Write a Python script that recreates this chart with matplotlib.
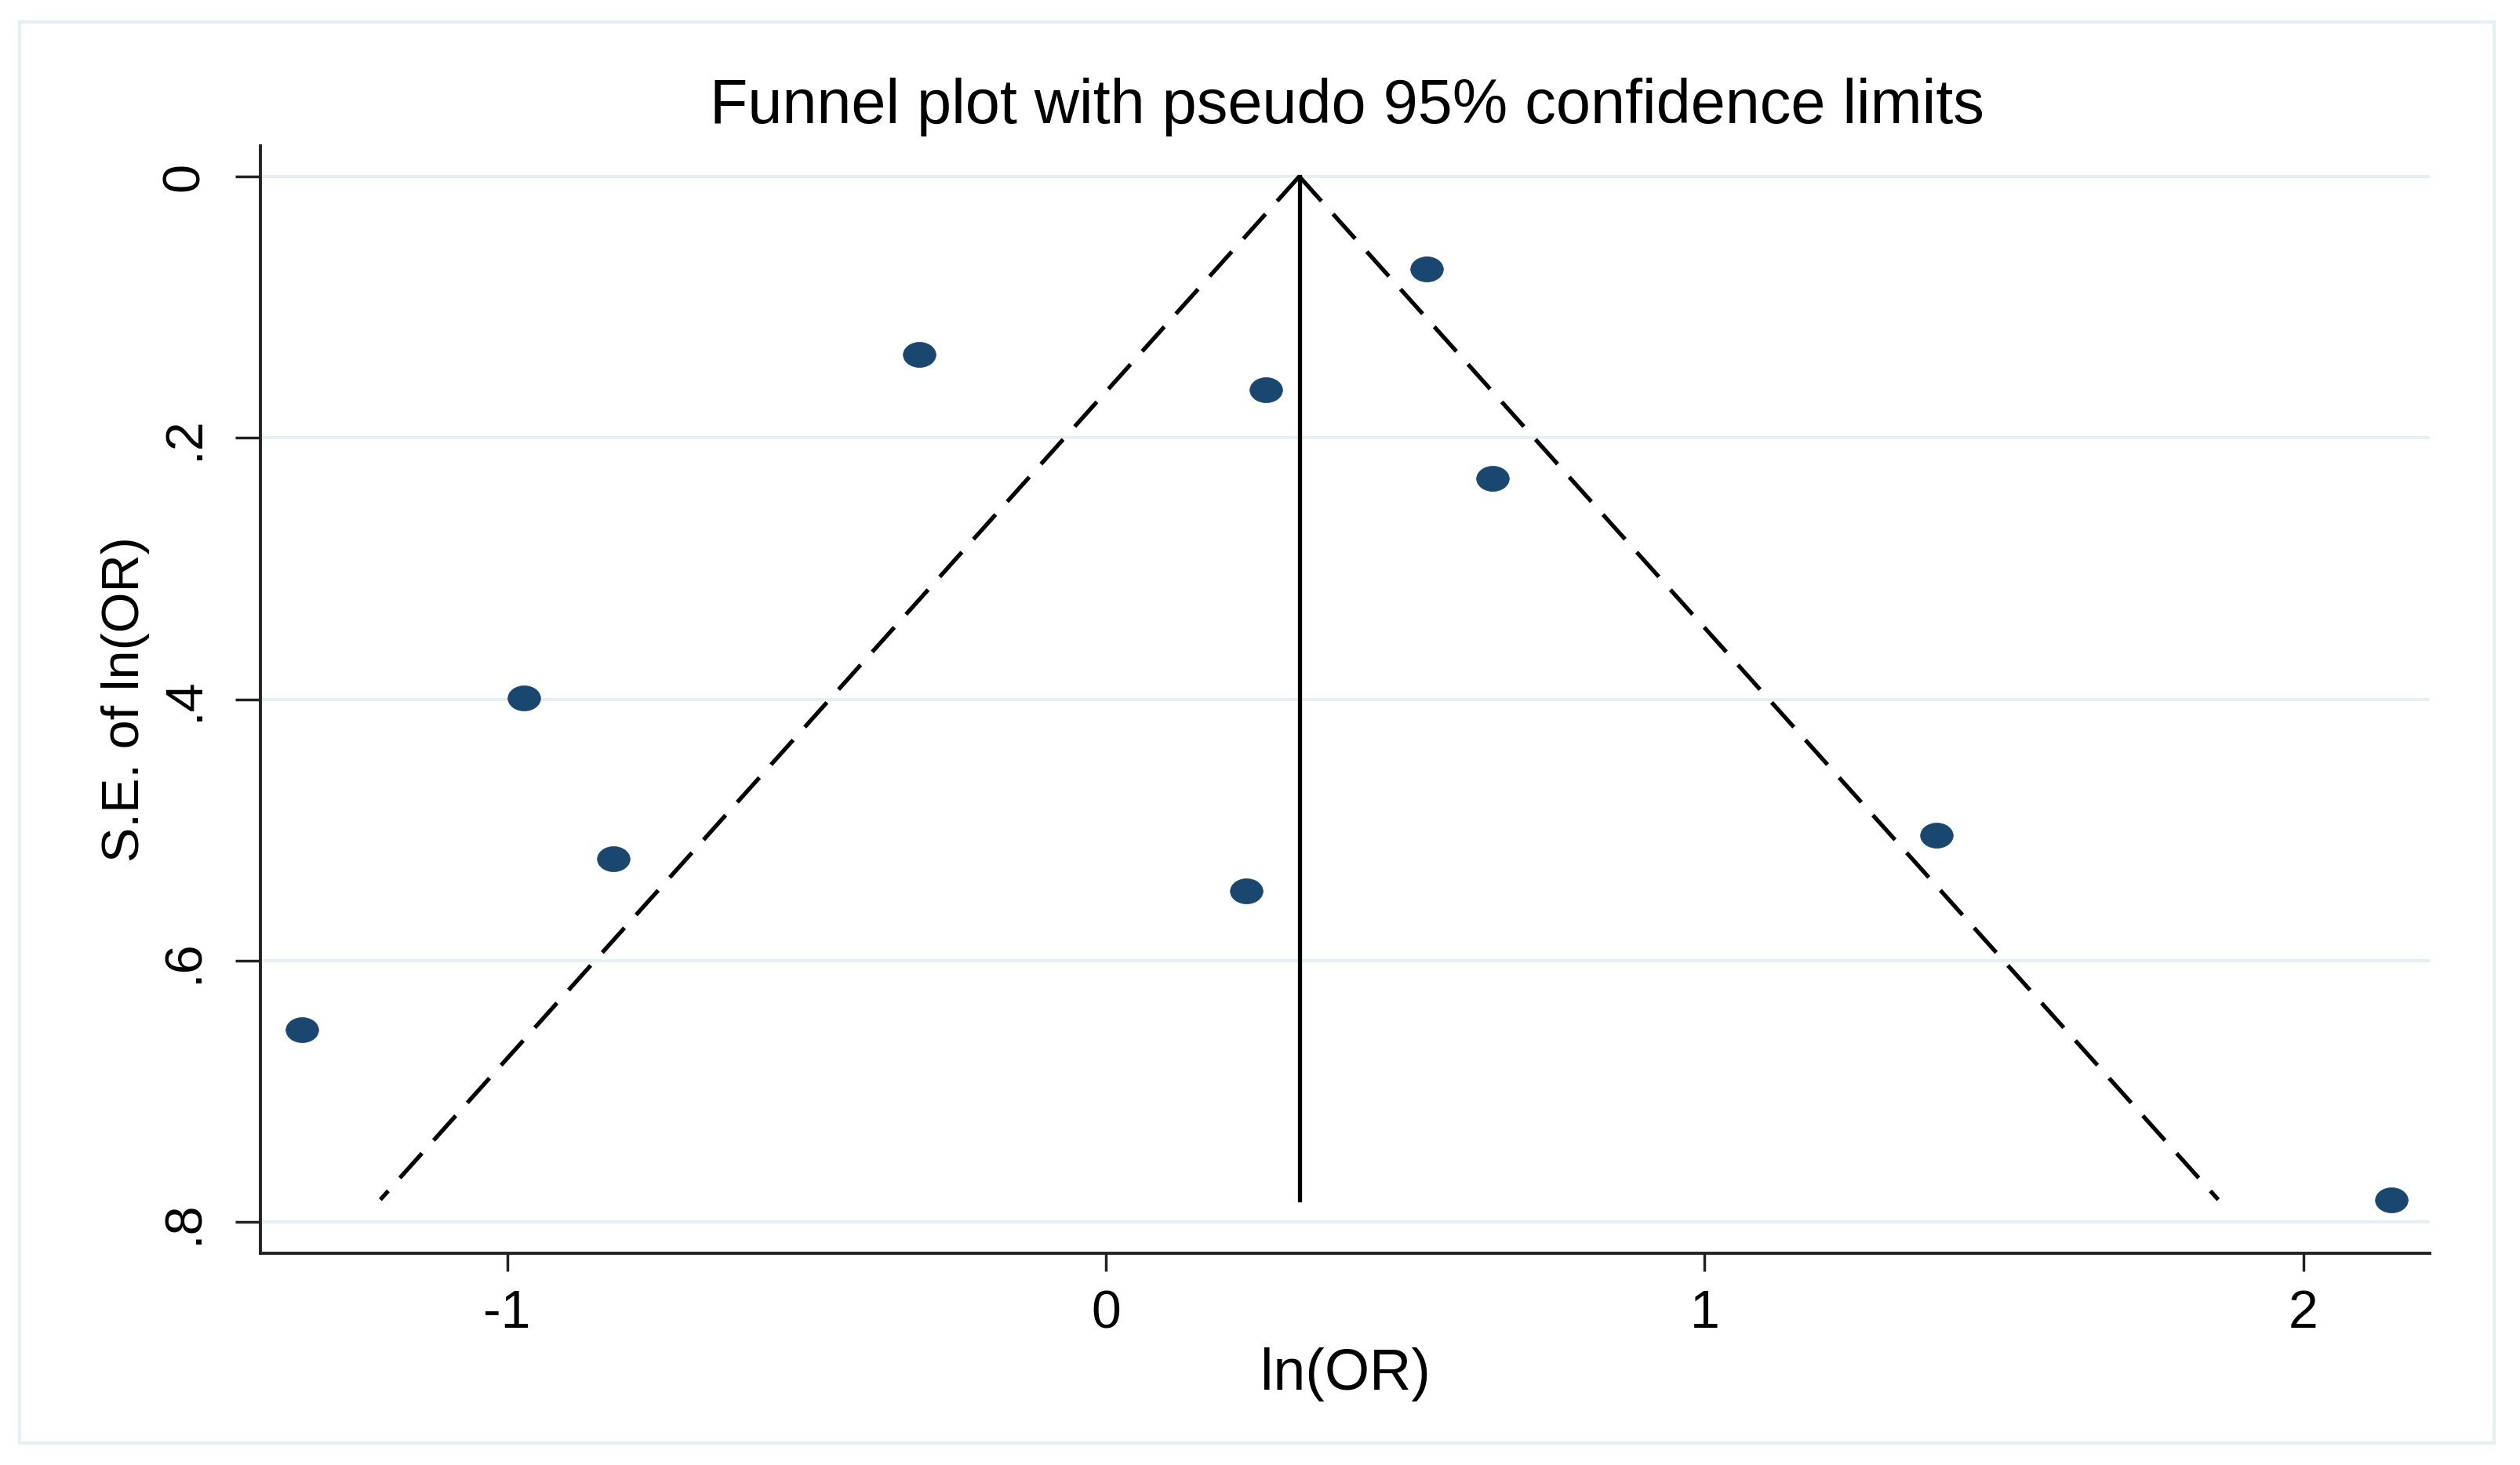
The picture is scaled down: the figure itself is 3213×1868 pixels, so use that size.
import numpy as np
import matplotlib
matplotlib.use("Agg")
import matplotlib.pyplot as plt
from matplotlib.path import Path
from matplotlib.patches import Rectangle

# ---- data ----
ln_or = [0.536, -0.312, 0.267, 0.646, -0.972, -0.823, 0.234, 1.387, -1.342, 2.147]
se_ln_or = [0.071, 0.136, 0.163, 0.231, 0.399, 0.522, 0.547, 0.504, 0.653, 0.783]
pooled = 0.323
z95 = 1.96
x_ticks = [-1, 0, 1, 2]
x_ticklabels = ["-1", "0", "1", "2"]
y_ticks = [0, 0.2, 0.4, 0.6, 0.8]
y_ticklabels = ["0", ".2", ".4", ".6", ".8"]
title = "Funnel plot with pseudo 95% confidence limits"
xlabel = "ln(OR)"
ylabel = "S.E. of ln(OR)"

plt.rcParams['font.family'] = ['Liberation Sans', 'DejaVu Sans']

W, H = 3213, 1868
fig = plt.figure(figsize=(W / 100, H / 100), dpi=100)
fig.patch.set_facecolor('white')

# outer light frame
fig.patches.append(Rectangle((25 / W, 1 - 1840 / H), (3180 - 25) / W, (1840 - 28) / H,
                             transform=fig.transFigure, fill=False,
                             edgecolor='#e6eff2', linewidth=3.0, zorder=0))

left, right, top, bottom = 332 / W, 3098 / W, 1 - 186 / H, 1 - 1598 / H
ax = fig.add_axes([left, bottom, right - left, top - bottom])

ax.set_xlim(-1.412, 2.211)
ax.set_ylim(0.824, -0.0234)

# grid
for yv in y_ticks:
    ax.axhline(yv, color='#e6eff2', linewidth=2.8, zorder=0)

# funnel
se_max = max(se_ln_or)
se_line = [0.0, se_max]
ax.plot([pooled - z95 * s for s in se_line], se_line, color='black', linewidth=3.8,
        linestyle=(0, (8, 4.2)), zorder=2)
ax.plot([pooled + z95 * s for s in se_line], se_line, color='black', linewidth=3.8,
        linestyle=(0, (8, 4.2)), zorder=2)
ax.plot([pooled, pooled], se_line, color='black', linewidth=3.8, zorder=2)

# elliptical marker
circ = Path.unit_circle()
ell = Path(circ.vertices * np.array([1.3, 1.0]), circ.codes)
ax.plot(ln_or, se_ln_or, linestyle='none', marker=ell, markersize=30,
        markerfacecolor='#1a476f', markeredgecolor='#1a476f', markeredgewidth=0.5, zorder=3)

# spines
for s in ['top', 'right']:
    ax.spines[s].set_visible(False)
for s in ['left', 'bottom']:
    ax.spines[s].set_linewidth(2.8)
    ax.spines[s].set_color('#222222')

ax.set_xticks(x_ticks)
ax.set_xticklabels(x_ticklabels)
ax.set_yticks(y_ticks)
ax.set_yticklabels(y_ticklabels, rotation=90, va='center')

ax.tick_params(axis='x', length=16.5, width=2.5, pad=16, labelsize=49, color='#222222')
ax.tick_params(axis='y', length=23, width=2.5, pad=24, labelsize=48, color='#222222')

ax.set_xlabel(xlabel, fontsize=53, labelpad=8)
ax.set_ylabel(ylabel, fontsize=48, labelpad=10)

fig.text(1717 / W, 1 - 157 / H, title, ha='center', va='baseline', fontsize=57)

fig.savefig('out.png', dpi=100, facecolor='white')
